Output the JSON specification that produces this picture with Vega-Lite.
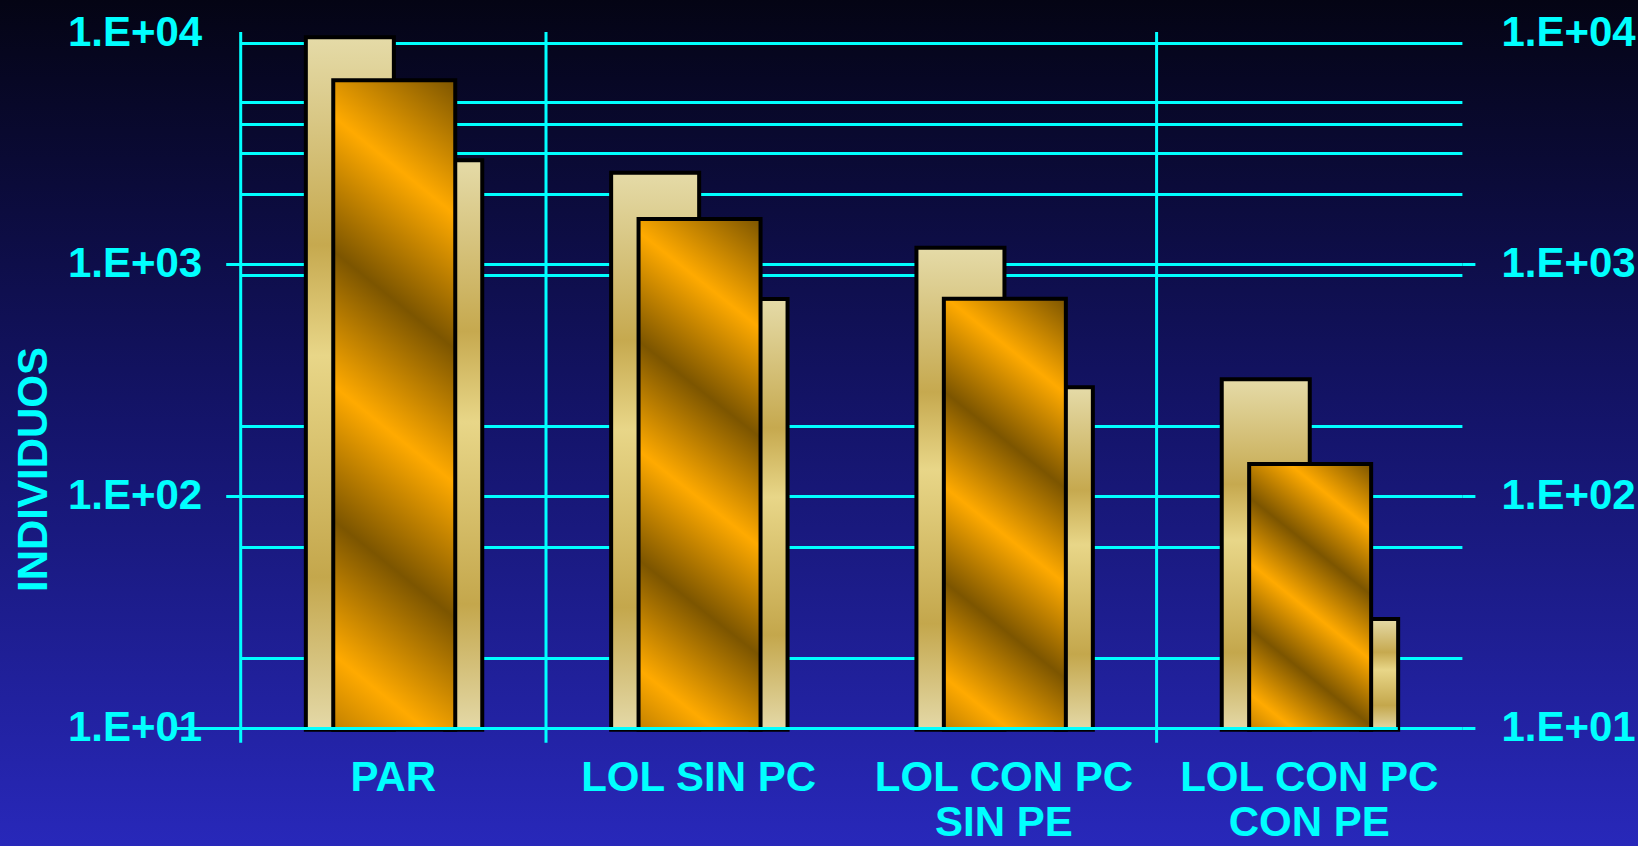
{
  "$schema": "https://vega.github.io/schema/vega-lite/v6.json",
  "width": 1638,
  "height": 846,
  "padding": 0,
  "autosize": {"type": "none"},
  "background": "#10104a",
  "view": {
    "stroke": null,
    "fill": {"gradient": "linear", "x1": 0, "y1": 0, "x2": 0, "y2": 1,
      "stops": [{"offset": 0, "color": "#040414"}, {"offset": 0.5, "color": "#14146a"}, {"offset": 1, "color": "#2828ba"}]}
  },
  "datasets": {
    "barras": [
      {"cat": "PAR", "serie": "A", "valor": 9500},
      {"cat": "PAR", "serie": "B", "valor": 6200},
      {"cat": "PAR", "serie": "C", "valor": 2800},
      {"cat": "LOL SIN PC", "serie": "A", "valor": 2470},
      {"cat": "LOL SIN PC", "serie": "B", "valor": 1560},
      {"cat": "LOL SIN PC", "serie": "C", "valor": 706},
      {"cat": "LOL CON PC SIN PE", "serie": "A", "valor": 1175},
      {"cat": "LOL CON PC SIN PE", "serie": "B", "valor": 708},
      {"cat": "LOL CON PC SIN PE", "serie": "C", "valor": 294},
      {"cat": "LOL CON PC CON PE", "serie": "A", "valor": 318},
      {"cat": "LOL CON PC CON PE", "serie": "B", "valor": 137},
      {"cat": "LOL CON PC CON PE", "serie": "C", "valor": 29.4}
    ],
    "limites": [
      {"cat": "PAR"},
      {"cat": "LOL SIN PC"},
      {"cat": "LOL CON PC CON PE"}
    ]
  },
  "layer": [
    {
      "data": {"name": "barras"},
      "transform": [{"filter": "datum.serie == 'A'"}],
      "mark": {"type": "bar", "width": {"band": 0.2883}, "xOffset": -43.5, "stroke": "#000000", "strokeWidth": 4,
        "fill": {"gradient": "linear", "x1": 0, "y1": 0, "x2": 0, "y2": 1,
          "stops": [{"offset": 0, "color": "#e5dba8"}, {"offset": 0.3, "color": "#c6a94f"}, {"offset": 0.46, "color": "#e8d688"}, {"offset": 0.78, "color": "#c4a74c"}, {"offset": 1, "color": "#e4d9a8"}]}},
      "encoding": {
        "x": {"field": "cat", "type": "nominal",
          "scale": {"type": "band", "domain": ["PAR", "LOL SIN PC", "LOL CON PC SIN PE", "LOL CON PC CON PE"], "range": [240.7, 1461.9], "paddingInner": 0, "paddingOuter": 0},
          "axis": {"title": null, "orient": "bottom", "offset": -118.3, "domain": false, "ticks": false, "tickSize": 0, "grid": false, "labelAngle": 0,
            "labelFont": "Liberation Sans", "labelFontWeight": "bold", "labelFontSize": 42, "labelColor": "#00ffff",
            "labelPadding": 30, "labelLineHeight": 45, "labelBaseline": "top", "labelAlign": "center", "labelOverlap": false, "labelBound": false, "labelLimit": 0,
            "labelExpr": "datum.value == 'LOL CON PC SIN PE' ? ['LOL CON PC', 'SIN PE'] : datum.value == 'LOL CON PC CON PE' ? ['LOL CON PC', 'CON PE'] : datum.label"}},
        "y": {"field": "valor", "type": "quantitative",
          "scale": {"type": "log", "domain": [10, 10000], "range": [727.7, 32], "nice": false},
          "axis": {"orient": "left", "offset": -240.7, "values": [10, 20, 60, 100, 200, 900, 1000, 2000, 3000, 4000, 5000, 9000, 10000],
            "domain": false, "ticks": true, "tickSize": 15, "tickWidth": 3, "tickColor": "#00ffff",
            "tickOpacity": {"condition": {"test": "datum.value == 10 || datum.value == 100 || datum.value == 1000", "value": 1}, "value": 0},
            "grid": true, "gridColor": "#00ffff", "gridWidth": 3,
            "gridOpacity": {"condition": {"test": "datum.value >= 10000", "value": 0}, "value": 1},
            "labelExpr": "datum.value == 10 ? '1.E+01' : datum.value == 100 ? '1.E+02' : datum.value == 1000 ? '1.E+03' : datum.value == 10000 ? '1.E+04' : ''",
            "labelFont": "Liberation Sans", "labelFontWeight": "bold", "labelFontSize": 42, "labelColor": "#00ffff",
            "labelPadding": 24, "labelOverlap": false, "labelBound": false, "labelFlush": false, "labelLimit": 0, "labelBaseline": "middle",
            "title": "INDIVIDUOS", "titleFont": "Liberation Sans", "titleFontWeight": "bold", "titleFontSize": 42, "titleColor": "#00ffff",
            "titleX": -207.7, "titleY": 469, "titleAngle": -90, "titleAlign": "center", "titleBaseline": "middle", "zindex": 0}},
        "y2": {"datum": 9.8}
      }
    },
    {
      "data": {"name": "barras"},
      "transform": [{"filter": "datum.serie == 'C'"}],
      "mark": {"type": "bar", "width": {"band": 0.1212}, "xOffset": 70.4, "stroke": "#000000", "strokeWidth": 4,
        "fill": {"gradient": "linear", "x1": 0, "y1": 0, "x2": 0, "y2": 1,
          "stops": [{"offset": 0, "color": "#e5dba8"}, {"offset": 0.3, "color": "#c6a94f"}, {"offset": 0.46, "color": "#e8d688"}, {"offset": 0.78, "color": "#c4a74c"}, {"offset": 1, "color": "#e4d9a8"}]}},
      "encoding": {
        "x": {"field": "cat", "type": "nominal",
          "scale": {"type": "band", "domain": ["PAR", "LOL SIN PC", "LOL CON PC SIN PE", "LOL CON PC CON PE"], "range": [240.7, 1461.9], "paddingInner": 0, "paddingOuter": 0}},
        "y": {"field": "valor", "type": "quantitative",
          "scale": {"type": "log", "domain": [10, 10000], "range": [727.7, 32], "nice": false},
          "axis": {"orient": "right", "offset": -176.1, "values": [10, 100, 1000, 10000],
            "domain": false, "ticks": true, "tickSize": 13, "tickWidth": 3, "tickColor": "#00ffff",
            "tickOpacity": {"condition": {"test": "datum.value >= 10000", "value": 0}, "value": 1},
            "grid": true, "gridColor": "#00ffff", "gridWidth": 3,
            "gridOpacity": {"condition": {"test": "datum.value == 10", "value": 1}, "value": 0},
            "labelExpr": "datum.value == 10 ? '1.E+01' : datum.value == 100 ? '1.E+02' : datum.value == 1000 ? '1.E+03' : datum.value == 10000 ? '1.E+04' : ''",
            "labelFont": "Liberation Sans", "labelFontWeight": "bold", "labelFontSize": 42, "labelColor": "#00ffff",
            "labelPadding": 26, "labelOverlap": false, "labelBound": false, "labelFlush": false, "labelLimit": 0, "labelBaseline": "middle",
            "title": null, "zindex": 1}},
        "y2": {"datum": 9.8}
      }
    },
    {
      "data": {"name": "barras"},
      "transform": [{"filter": "datum.serie == 'B'"}],
      "mark": {"type": "bar", "width": {"band": 0.3996}, "xOffset": 0.9, "stroke": "#000000", "strokeWidth": 4},
      "encoding": {
        "x": {"field": "cat", "type": "nominal",
          "scale": {"type": "band", "domain": ["PAR", "LOL SIN PC", "LOL CON PC SIN PE", "LOL CON PC CON PE"], "range": [240.7, 1461.9], "paddingInner": 0, "paddingOuter": 0}},
        "y": {"field": "valor", "type": "quantitative",
          "scale": {"type": "log", "domain": [10, 10000], "range": [727.7, 32], "nice": false}, "axis": null},
        "y2": {"datum": 9.8},
        "fill": {
          "condition": [
            {"test": "datum.cat == 'PAR'", "value": {"gradient": "linear", "x1": 1, "y1": 0, "x2": 0.83, "y2": 1.125,
              "stops": [{"offset": 0, "color": "#7c5500"}, {"offset": 0.18, "color": "#ffaa00"}, {"offset": 0.36, "color": "#7c5500"}, {"offset": 0.54, "color": "#ffaa00"}, {"offset": 0.72, "color": "#7c5500"}, {"offset": 0.9, "color": "#ffaa00"}, {"offset": 1, "color": "#c08000"}]}},
            {"test": "datum.cat == 'LOL SIN PC'", "value": {"gradient": "linear", "x1": 1, "y1": 0, "x2": 0.783, "y2": 1.148,
              "stops": [{"offset": 0, "color": "#7c5500"}, {"offset": 0.18, "color": "#ffaa00"}, {"offset": 0.36, "color": "#7c5500"}, {"offset": 0.54, "color": "#ffaa00"}, {"offset": 0.72, "color": "#7c5500"}, {"offset": 0.9, "color": "#ffaa00"}, {"offset": 1, "color": "#c08000"}]}},
            {"test": "datum.cat == 'LOL CON PC SIN PE'", "value": {"gradient": "linear", "x1": 1, "y1": 0, "x2": 0.736, "y2": 1.166,
              "stops": [{"offset": 0, "color": "#7c5500"}, {"offset": 0.18, "color": "#ffaa00"}, {"offset": 0.36, "color": "#7c5500"}, {"offset": 0.54, "color": "#ffaa00"}, {"offset": 0.72, "color": "#7c5500"}, {"offset": 0.9, "color": "#ffaa00"}, {"offset": 1, "color": "#c08000"}]}}
          ],
          "value": {"gradient": "linear", "x1": 1, "y1": 0, "x2": 0.557, "y2": 1.205,
            "stops": [{"offset": 0, "color": "#7c5500"}, {"offset": 0.18, "color": "#ffaa00"}, {"offset": 0.36, "color": "#7c5500"}, {"offset": 0.54, "color": "#ffaa00"}, {"offset": 0.72, "color": "#7c5500"}, {"offset": 0.9, "color": "#ffaa00"}, {"offset": 1, "color": "#c08000"}]}
        }
      }
    },
    {
      "data": {"name": "limites"},
      "mark": {"type": "rule", "color": "#00ffff", "strokeWidth": 3},
      "encoding": {
        "x": {"field": "cat", "type": "nominal", "bandPosition": 0,
          "scale": {"type": "band", "domain": ["PAR", "LOL SIN PC", "LOL CON PC SIN PE", "LOL CON PC CON PE"], "range": [240.7, 1461.9], "paddingInner": 0, "paddingOuter": 0}},
        "y": {"datum": 10000, "type": "quantitative",
          "scale": {"type": "log", "domain": [10, 10000], "range": [727.7, 32], "nice": false}, "axis": null},
        "y2": {"datum": 8.62}
      }
    }
  ],
  "resolve": {"axis": {"y": "independent"}}
}
